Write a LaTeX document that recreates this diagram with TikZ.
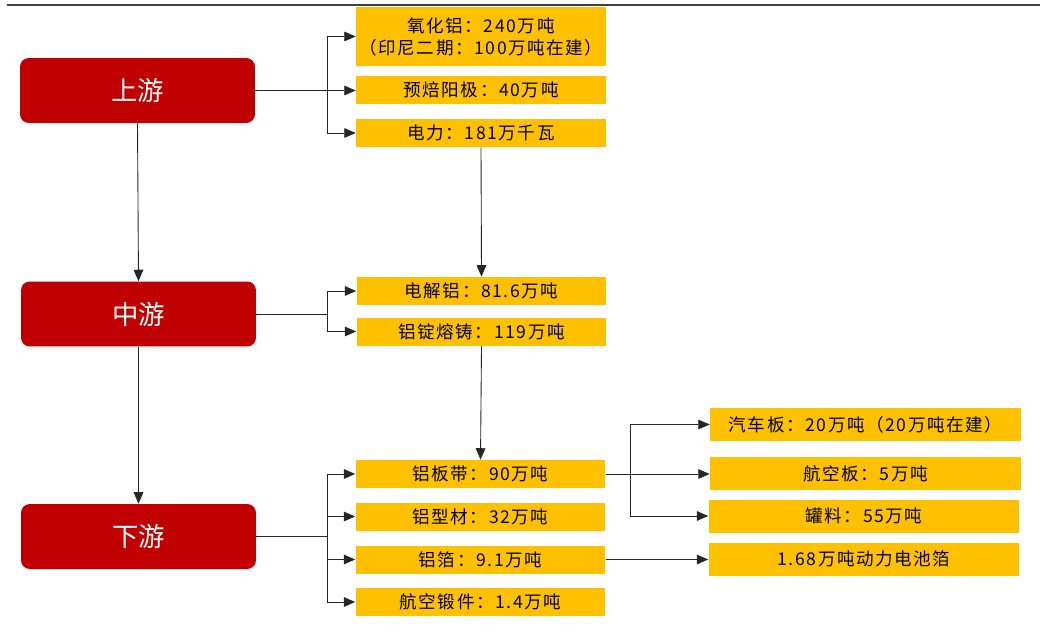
\documentclass[tikz,border=0pt]{standalone}
\usepackage{fontspec}
\setmainfont{Noto Sans CJK SC}
\newfontfamily\boxfont[LetterSpace=9]{Noto Sans CJK SC}
\usepackage{xcolor}
\definecolor{chainred}{HTML}{C00000}
\definecolor{boxyellow}{HTML}{FFC000}
\definecolor{ruleline}{HTML}{404040}
\usetikzlibrary{arrows.meta, positioning}

\begin{document}
\begin{tikzpicture}[
    x=0.02cm, y=-0.02cm,
    stage/.style={rectangle, rounded corners=5pt, fill=chainred, text=white, minimum width=4.7cm, minimum height=1.3cm, font=\fontsize{15}{17}\selectfont},
    item/.style={rectangle, fill=boxyellow, minimum width=5cm, minimum height=0.56cm, inner sep=0pt, align=center, font=\boxfont\fontsize{10}{12.5}\selectfont},
    wideitem/.style={item, minimum width=6.22cm, minimum height=0.66cm},
    link/.style={line width=0.5pt, color=black!85},
    arr/.style={link, -{Triangle[length=6.5pt, width=5.5pt]}},
]
    \useasboundingbox (0,0) rectangle (1040,642);
    \draw[line width=1pt, ruleline] (7,5) -- (1040,5);

    % stages
    \node[stage] (up) at (137.5,90.5) {上游};
    \node[stage] (mid) at (138.5,314) {中游};
    \node[stage] (down) at (138.5,536.5) {下游};

    % upstream
    \node[item, minimum height=1.18cm] (alumina) at (481,36.5) {氧化铝：240万吨\\（印尼二期：100万吨在建）};
    \node[item] (anode) at (481,90) {预焙阳极：40万吨};
    \node[item] (power) at (481,133) {电力：181万千瓦};

    % midstream
    \node[item] (elec) at (481.5,291) {电解铝：81.6万吨};
    \node[item] (ingot) at (481.5,331.5) {铝锭熔铸：119万吨};

    % downstream
    \node[item] (sheet) at (480.5,474) {铝板带：90万吨};
    \node[item] (profile) at (480.5,516.5) {铝型材：32万吨};
    \node[item] (foil) at (480.5,559.5) {铝箔：9.1万吨};
    \node[item] (forging) at (480.5,602) {航空锻件：1.4万吨};

    \node[wideitem] (auto) at (865.5,424.5) {汽车板：20万吨（20万吨在建）};
    \node[wideitem] (aero) at (865.5,473.5) {航空板：5万吨};
    \node[wideitem] (can) at (864,516) {罐料：55万吨};
    \node[wideitem] (battery) at (864,559) {1.68万吨动力电池箔};

    % fork points
    \coordinate (upfork) at (327,90.5);
    \coordinate (midfork) at (327,314);
    \coordinate (downfork) at (327,536.5);
    \coordinate (sheetfork) at (630,474);

    \draw[arr] (up.east) -- (up.east -| anode.west);
    \draw[arr] (upfork) |- (alumina.west);
    \draw[arr] (upfork) |- (power.west);

    \draw[link] (mid.east) -- (midfork);
    \draw[arr] (midfork) |- (elec.west);
    \draw[arr] (midfork) |- (ingot.west);

    \draw[link] (down.east) -- (downfork);
    \draw[arr] (downfork) |- (sheet.west);
    \draw[arr] (downfork) |- (profile.west);
    \draw[arr] (downfork) |- (foil.west);
    \draw[arr] (downfork) |- (forging.west);

    \draw[arr] (up.south) -- (mid.north);
    \draw[arr] (mid.south) -- (down.north);
    \draw[arr] (power.south) -- (elec.north);
    \draw[arr] (ingot.south) -- (sheet.north);

    \draw[arr] (sheet.east) -- (sheet.east -| aero.west);
    \draw[arr] (sheetfork) |- (auto.west);
    \draw[arr] (sheetfork) |- (can.west);
    \draw[arr] (foil.east) -- (foil.east -| battery.west);
\end{tikzpicture}
\end{document}
